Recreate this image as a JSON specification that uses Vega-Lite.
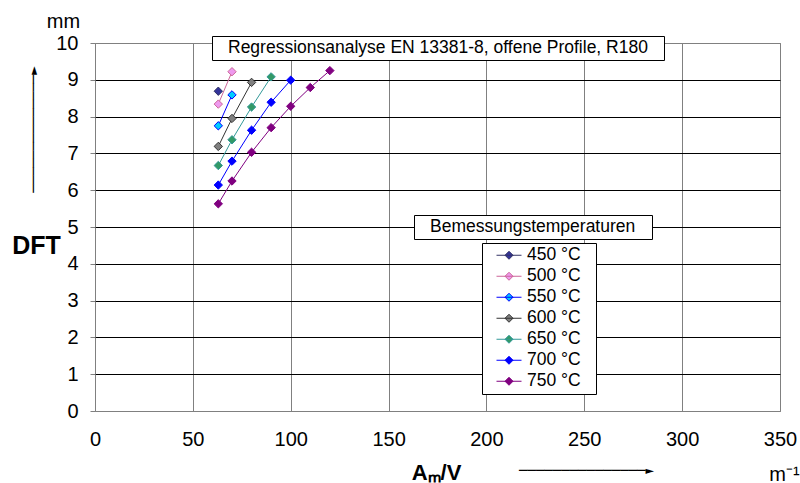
{
  "$schema": "https://vega.github.io/schema/vega-lite/v6.json",
  "width": 685,
  "height": 368,
  "autosize": {"type": "none"},
  "padding": {"left": 95, "top": 43, "right": 20, "bottom": 72},
  "background": "white",
  "config": {
    "font": "Liberation Sans",
    "view": {"stroke": "#808080", "strokeWidth": 1},
    "axis": {"labelFont": "Liberation Sans", "labelColor": "#000000", "labelFontSize": 20, "titleColor": "#000000", "titleFont": "Liberation Sans", "labelFlush": false},
    "legend": {"labelFont": "Liberation Sans", "titleFont": "Liberation Sans", "labelColor": "#000000", "titleColor": "#000000"}
  },
  "data": {
    "values": [
      {"series": "450 °C", "x": 63, "y": 8.69},
      {"series": "500 °C", "x": 63, "y": 8.34},
      {"series": "500 °C", "x": 70, "y": 9.22},
      {"series": "550 °C", "x": 63, "y": 7.75},
      {"series": "550 °C", "x": 70, "y": 8.59},
      {"series": "600 °C", "x": 63, "y": 7.19},
      {"series": "600 °C", "x": 70, "y": 7.95},
      {"series": "600 °C", "x": 80, "y": 8.93},
      {"series": "650 °C", "x": 63, "y": 6.67},
      {"series": "650 °C", "x": 70, "y": 7.37},
      {"series": "650 °C", "x": 80, "y": 8.26},
      {"series": "650 °C", "x": 90, "y": 9.08},
      {"series": "700 °C", "x": 63, "y": 6.14},
      {"series": "700 °C", "x": 70, "y": 6.79},
      {"series": "700 °C", "x": 80, "y": 7.63},
      {"series": "700 °C", "x": 90, "y": 8.39},
      {"series": "700 °C", "x": 100, "y": 8.99},
      {"series": "750 °C", "x": 63, "y": 5.63},
      {"series": "750 °C", "x": 70, "y": 6.25},
      {"series": "750 °C", "x": 80, "y": 7.03},
      {"series": "750 °C", "x": 90, "y": 7.70},
      {"series": "750 °C", "x": 100, "y": 8.28},
      {"series": "750 °C", "x": 110, "y": 8.79},
      {"series": "750 °C", "x": 120, "y": 9.25}
    ]
  },
  "layer": [
    {
      "mark": {"type": "line", "strokeWidth": 1},
      "encoding": {
        "x": {
          "field": "x", "type": "quantitative",
          "scale": {"domain": [0, 350], "nice": false, "zero": false},
          "axis": {
            "orient": "bottom",
            "values": [0, 50, 100, 150, 200, 250, 300, 350],
            "grid": true, "gridColor": "#808080", "gridWidth": 1,
            "ticks": false, "domain": false, "labelPadding": 18, "labelFlush": false,
            "title": "Aₘ/V", "titleFontWeight": "bold", "titleFontSize": 22,
            "titleX": 341, "titleY": 68, "titleAlign": "center", "titleBaseline": "alphabetic", "titleAngle": 0
          }
        },
        "y": {
          "field": "y", "type": "quantitative",
          "scale": {"domain": [0, 10], "nice": false, "zero": false},
          "axis": {
            "orient": "left",
            "values": [0, 1, 2, 3, 4, 5, 6, 7, 8, 9, 10],
            "grid": true,
            "gridColor": {"condition": {"test": "datum.value === 0 || datum.value === 10", "value": "#808080"}, "value": "#000000"},
            "gridWidth": 1,
            "ticks": true, "tickSize": 5, "tickColor": "#808080", "domain": false, "labelPadding": 12, "labelFlush": false,
            "title": "mm", "titleFontWeight": "normal", "titleFontSize": 20,
            "titleX": -32, "titleY": -22, "titleAlign": "center", "titleBaseline": "middle", "titleAngle": 0
          }
        },
        "stroke": {
          "field": "series", "type": "nominal",
          "scale": {
            "domain": ["450 °C", "500 °C", "550 °C", "600 °C", "650 °C", "700 °C", "750 °C"],
            "range": ["#333366", "#cc6699", "#0000ff", "#333333", "#339999", "#0000ff", "#800080"]
          }
        },
        "order": {"field": "x", "type": "quantitative"}
      }
    },
    {
      "mark": {"type": "point", "shape": "diamond", "filled": true, "size": 70, "strokeWidth": 1, "opacity": 1},
      "encoding": {
        "x": {
          "field": "x", "type": "quantitative",
          "scale": {"domain": [0, 350], "nice": false, "zero": false},
          "axis": {
            "orient": "bottom",
            "labels": false, "grid": false, "ticks": false, "domain": false,
            "title": "m⁻¹", "titleFontWeight": "normal", "titleFontSize": 20,
            "titleX": 689, "titleY": 69, "titleAlign": "center", "titleBaseline": "alphabetic", "titleAngle": 0
          }
        },
        "y": {
          "field": "y", "type": "quantitative",
          "scale": {"domain": [0, 10], "nice": false, "zero": false},
          "axis": {
            "orient": "left",
            "labels": false, "grid": false, "ticks": false, "domain": false,
            "title": "DFT", "titleFontWeight": "bold", "titleFontSize": 25,
            "titleX": -59, "titleY": 202, "titleAlign": "center", "titleBaseline": "middle", "titleAngle": 0
          }
        },
        "fill": {
          "field": "series", "type": "nominal",
          "scale": {
            "domain": ["450 °C", "500 °C", "550 °C", "600 °C", "650 °C", "700 °C", "750 °C"],
            "range": ["#333399", "#ee99ee", "#00ccff", "#808080", "#339966", "#0000ff", "#800080"]
          },
          "legend": {
            "orient": "none", "legendX": 387, "legendY": 200,
            "title": null, "padding": 2,
            "strokeColor": "#000000", "fillColor": "#ffffff",
            "symbolType": "M-1,0H1M0,-0.32L0.32,0L0,0.32L-0.32,0Z",
            "symbolSize": 625, "symbolStrokeWidth": 1, "symbolOffset": 12,
            "labelOffset": 5, "clipHeight": 20.5, "rowPadding": 0,
            "labelFontSize": 17.5,
            "labelExpr": "datum.label + '\u2800'",
            "encode": {"symbols": {"update": {"fill": {"scale": "fill", "field": "value"}, "stroke": {"scale": "stroke", "field": "value"}}}}
          }
        },
        "stroke": {"field": "series", "type": "nominal"}
      }
    },
    {
      "mark": {"type": "point", "fillOpacity": 0, "strokeOpacity": 0},
      "encoding": {
        "x": {
          "field": "x", "type": "quantitative",
          "scale": {"domain": [0, 350], "nice": false, "zero": false},
          "axis": {
            "orient": "bottom",
            "labels": false, "grid": false, "ticks": false, "domain": false,
            "title": "───────────────►", "titleFont": "DejaVu Sans Mono", "titleFontWeight": "normal", "titleFontSize": 14,
            "titleX": 491, "titleY": 59, "titleAlign": "center", "titleBaseline": "middle", "titleAngle": 0
          }
        },
        "y": {
          "field": "y", "type": "quantitative",
          "scale": {"domain": [0, 10], "nice": false, "zero": false},
          "axis": {
            "orient": "left",
            "labels": false, "grid": false, "ticks": false, "domain": false,
            "title": "──────────────►", "titleFont": "DejaVu Sans Mono", "titleFontWeight": "normal", "titleFontSize": 14,
            "titleX": -62, "titleY": 86, "titleAlign": "center", "titleBaseline": "middle", "titleAngle": 270
          }
        },
        "opacity": {
          "field": "x", "type": "ordinal",
          "legend": {
            "orient": "none", "legendX": 319, "legendY": 172,
            "title": "\u2800Bemessungstemperaturen\u2800",
            "values": [], "padding": 3, "titlePadding": 0,
            "strokeColor": "#000000", "fillColor": "#ffffff",
            "titleFontSize": 17.5, "titleFontWeight": "normal", "titleLimit": 1000
          }
        },
        "shape": {
          "field": "y", "type": "nominal",
          "legend": {
            "orient": "none", "legendX": 117, "legendY": -7,
            "title": "\u2800Regressionsanalyse EN 13381-8, offene Profile, R180\u2800",
            "values": [], "padding": 3, "titlePadding": 0,
            "strokeColor": "#000000", "fillColor": "#ffffff",
            "titleFontSize": 17.5, "titleFontWeight": "normal", "titleLimit": 1000
          }
        }
      }
    }
  ],
  "resolve": {
    "scale": {"x": "independent", "y": "independent"},
    "axis": {"x": "independent", "y": "independent"}
  }
}
